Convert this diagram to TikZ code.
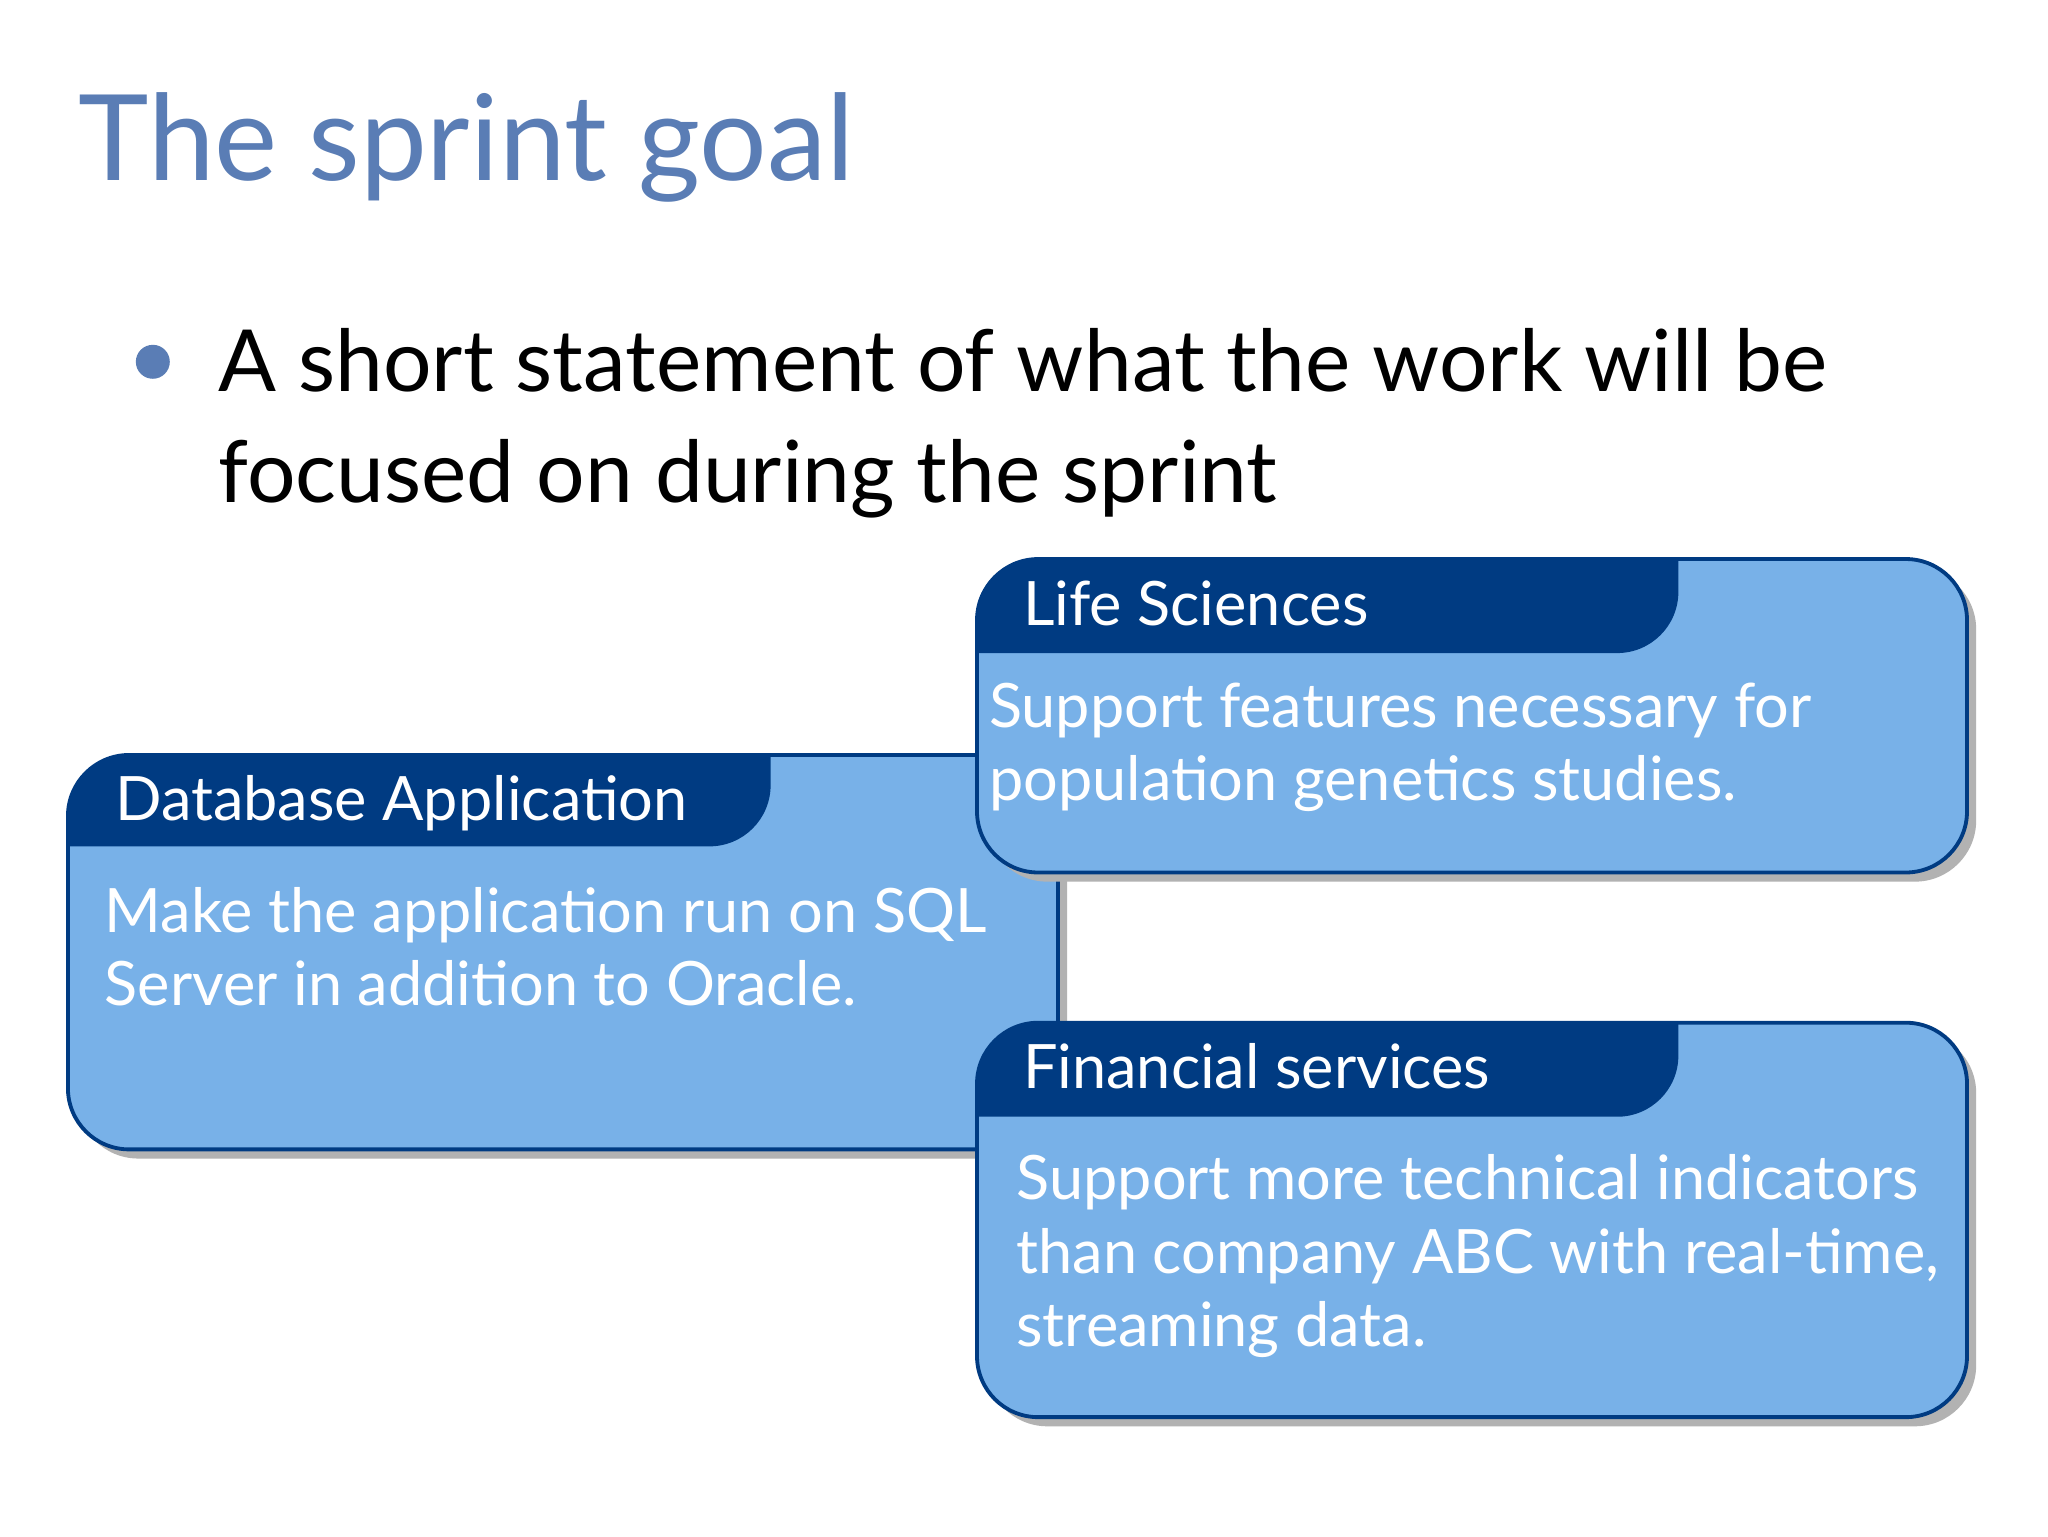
\documentclass[tikz,border=0pt]{standalone}
\usepackage{fontspec}
\setmainfont{Lato}
\definecolor{boxfill}{HTML}{78B1E8}
\definecolor{boxdark}{HTML}{003B82}
\definecolor{titleblue}{HTML}{5A7DB5}
\tikzset{
 boxtext/.style={anchor=base west,text=white,inner sep=0pt,font=\fontsize{40}{48}\selectfont},
 headtext/.style={anchor=base west,text=white,inner sep=0pt,font=\fontsize{40}{48}\selectfont},
}
\newcommand{\gbox}[6]{% x1 y1 x2 y2 tabx2 taby2
 \fill[black!30,rounded corners=40] ({#1+7},{#2+7}) rectangle ({#3+7},{#4+7});
 \begin{scope}
  \clip[rounded corners=40] (#1,#2) rectangle (#3,#4);
  \fill[boxfill] (#1,#2) rectangle (#3,#4);
  \fill[boxdark,rounded corners=40] ({#1-60},{#2-60}) rectangle (#5,#6);
 \end{scope}
 \draw[boxdark,line width=2.5pt,rounded corners=40] (#1,#2) rectangle (#3,#4);
}
\begin{document}
\begin{tikzpicture}[x=0.03cm,y=-0.03cm]
\useasboundingbox (0,0) rectangle (1568,1176);
\fill[white] (0,0) rectangle (1568,1176);
\node[anchor=base west,inner sep=0pt,text=titleblue,font=\fontsize{78}{90}\selectfont] (title) at (60,138) {The sprint goal};
\fill[titleblue] (117,277) circle (13);
\node[anchor=base west,inner sep=0pt,font=\fontsize{56}{70}\selectfont] (b1) at (167,300) {A short statement of what the work will be};
\node[anchor=base west,inner sep=0pt,font=\fontsize{56}{70}\selectfont] (b2) at (167,385) {focused on during the sprint};
\gbox{52}{578}{810}{880}{590}{648}
\node[headtext] (h1) at (88,628) {Database Application};
\node[boxtext] (t1a) at (80,714) {Make the application run on SQL};
\node[boxtext] (t1b) at (80,770) {Server in addition to Oracle.};
\gbox{748}{428}{1506}{668}{1285}{500}
\node[headtext] (h2) at (783,479) {Life Sciences};
\node[boxtext] (t2a) at (757,557) {Support features necessary for};
\node[boxtext] (t2b) at (757,613) {population genetics studies.};
\gbox{748}{783}{1506}{1085}{1285}{855}
\node[headtext] (h3) at (783,833) {Financial services};
\node[boxtext] (t3a) at (778,918) {Support more technical indicators};
\node[boxtext] (t3b) at (778,975) {than company ABC with real-time,};
\node[boxtext] (t3c) at (778,1031) {streaming data.};
\end{tikzpicture}
\end{document}
